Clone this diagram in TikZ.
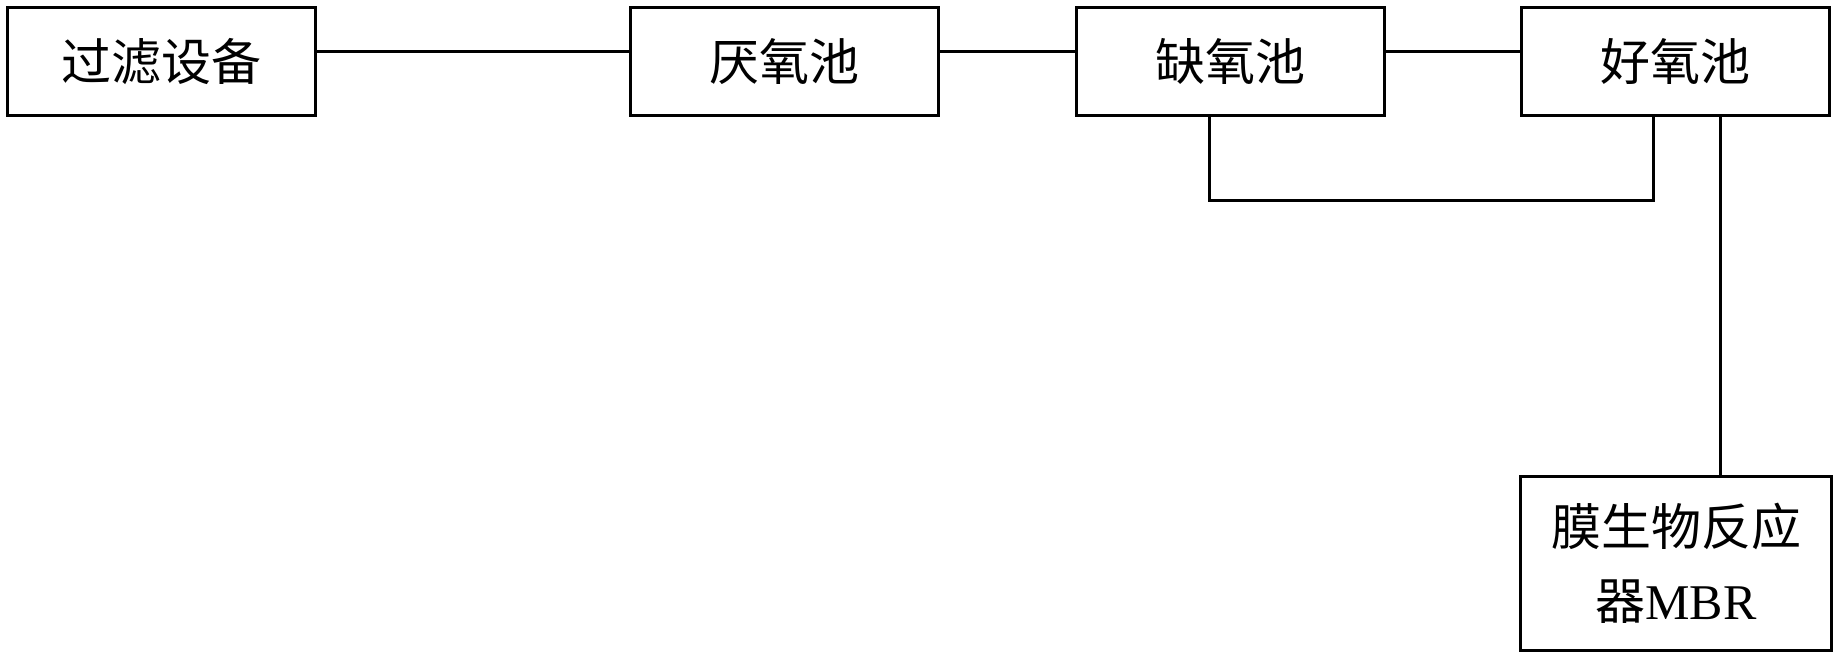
\documentclass[tikz,border=0pt]{standalone}
\usepackage{fontspec}
\setmainfont{Liberation Serif}
\newfontfamily\cjk{Noto Sans CJK SC}
\begin{document}
\begin{tikzpicture}[x=1pt,y=-1pt,
  box/.style={draw,line width=3pt,minimum width=308pt,minimum height=108pt,inner sep=0pt,
    font=\fontsize{50}{74}\selectfont\cjk,align=center},
  wire/.style={line width=3pt}]
\useasboundingbox[fill=white] (0,0) rectangle (1840,664);
\node[box] (f) at (161.5,61.5) {过滤设备};
\node[box] (a) at (784.5,61.5) {厌氧池};
\node[box] (x) at (1230.5,61.5) {缺氧池};
\node[box] (o) at (1675.5,61.5) {好氧池};
\node[box,minimum width=311pt,minimum height=174pt,font=\fontsize{50}{74}\selectfont] (m) at (1676,563.5) {{\cjk 膜生物反应}\\{\cjk 器}MBR};
\coordinate (ln) at (0,51);
\coordinate (lp) at (1209,200);
\coordinate (rp) at (1653,200);
\coordinate (vx) at (1720,0);
\draw[wire] (f.east |- ln) -- (a.west |- ln);
\draw[wire] (a.east |- ln) -- (x.west |- ln);
\draw[wire] (x.east |- ln) -- (o.west |- ln);
\draw[wire] (x.south -| lp) -- (lp) -- (rp) -- (o.south -| rp);
\draw[wire] (o.south -| vx) -- (m.north -| vx);
\end{tikzpicture}
\end{document}
